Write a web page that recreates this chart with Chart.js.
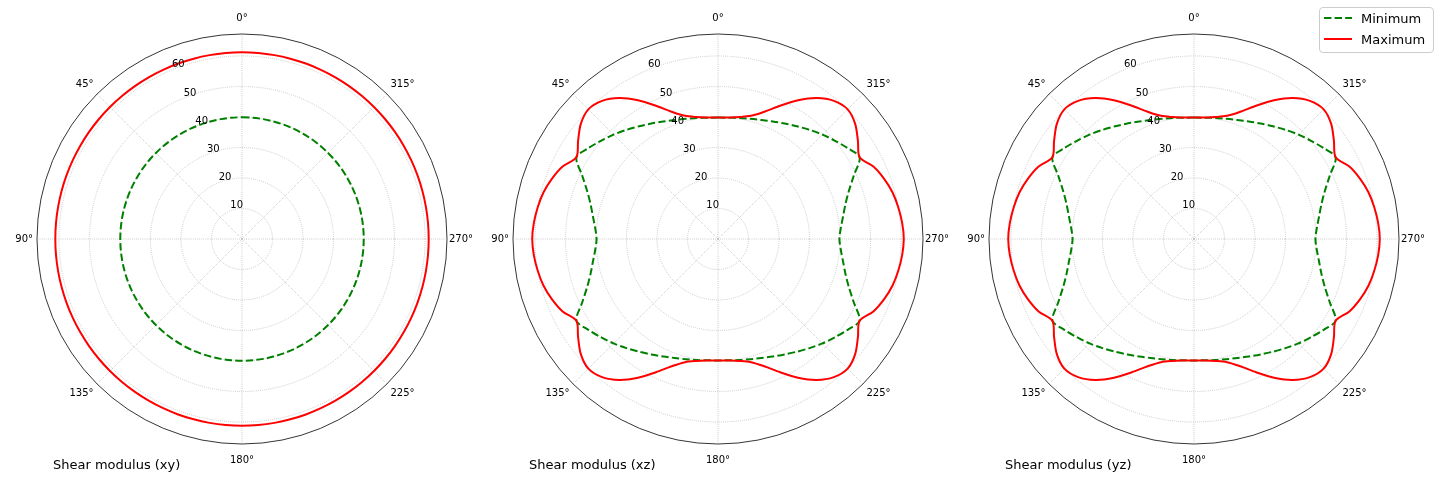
<!DOCTYPE html>
<html>
<head>
<meta charset="utf-8">
<script src="https://cdn.jsdelivr.net/npm/chart.js@4/dist/chart.umd.min.js"></script>
<style>
  body { margin: 0; background: #fff; }
  #page { position: relative; width: 1440px; height: 480px; overflow: hidden; background: #fff;
          font-family: "DejaVu Sans", sans-serif; color: #000; }
  .panel { position: absolute; top: 0; width: 480px; height: 480px; }
  .caption { position: absolute; top: 457px; font-size: 13px; line-height: 15px; white-space: nowrap; }
  #legend { position: absolute; left: 1319px; top: 7px; width: 115px; height: 46px; box-sizing: border-box;
            border: 1px solid #cccccc; border-radius: 4px; background: rgba(255,255,255,0.8); z-index: 2; }
  .lg-line { position: absolute; z-index: 3; }
  .lg-text { position: absolute; left: 1361px; font-size: 13px; line-height: 15px; z-index: 3; white-space: nowrap; }
</style>
</head>
<body>
<div id="page">
  <canvas id="chartXY" class="panel" width="480" height="480" style="left:5px"></canvas>
  <canvas id="chartXZ" class="panel" width="480" height="480" style="left:481px"></canvas>
  <canvas id="chartYZ" class="panel" width="480" height="480" style="left:957px"></canvas>

  <div class="caption" style="left:53px">Shear modulus (xy)</div>
  <div class="caption" style="left:529px">Shear modulus (xz)</div>
  <div class="caption" style="left:1005px">Shear modulus (yz)</div>

  <div id="legend"></div>
  <svg class="lg-line" style="left:1324px; top:15.5px" width="28" height="4">
    <line x1="0" y1="2" x2="28" y2="2" stroke="#008000" stroke-width="2" stroke-dasharray="7.4 3.2"/>
  </svg>
  <span class="lg-text" style="top:11px">Minimum</span>
  <svg class="lg-line" style="left:1324px; top:37px" width="28" height="4">
    <line x1="0" y1="2" x2="28" y2="2" stroke="#ff0000" stroke-width="2"/>
  </svg>
  <span class="lg-text" style="top:32px">Maximum</span>
</div>

<script>
// ---- angles (degrees, counter-clockwise from the top, as in the picture) ----
const angles = [
  0, 5, 10, 15, 20, 25, 30, 35, 40, 45, 50, 55, 60, 65, 70, 75, 80, 85,
  90, 95, 100, 105, 110, 115, 120, 125, 130, 135, 140, 145, 150, 155, 160, 165, 170, 175,
  180, 185, 190, 195, 200, 205, 210, 215, 220, 225, 230, 235, 240, 245, 250, 255, 260, 265,
  270, 275, 280, 285, 290, 295, 300, 305, 310, 315, 320, 325, 330, 335, 340, 345, 350, 355
];

// radial grid values and outer edge
const rTicks = [10, 20, 30, 40, 50, 60];
const RMAX = 67.2;

// ---- shear modulus (xy) ----
const minXY = [
  39.9, 39.9, 39.9, 39.9, 39.9, 39.9, 39.9, 39.9, 39.9, 39.9, 39.9, 39.9, 39.9, 39.9, 39.9, 39.9, 39.9, 39.9,
  39.9, 39.9, 39.9, 39.9, 39.9, 39.9, 39.9, 39.9, 39.9, 39.9, 39.9, 39.9, 39.9, 39.9, 39.9, 39.9, 39.9, 39.9,
  39.9, 39.9, 39.9, 39.9, 39.9, 39.9, 39.9, 39.9, 39.9, 39.9, 39.9, 39.9, 39.9, 39.9, 39.9, 39.9, 39.9, 39.9,
  39.9, 39.9, 39.9, 39.9, 39.9, 39.9, 39.9, 39.9, 39.9, 39.9, 39.9, 39.9, 39.9, 39.9, 39.9, 39.9, 39.9, 39.9
];
const maxXY = [
  61.2, 61.2, 61.2, 61.2, 61.2, 61.2, 61.2, 61.2, 61.2, 61.2, 61.2, 61.2, 61.2, 61.2, 61.2, 61.2, 61.2, 61.2,
  61.2, 61.2, 61.2, 61.2, 61.2, 61.2, 61.2, 61.2, 61.2, 61.2, 61.2, 61.2, 61.2, 61.2, 61.2, 61.2, 61.2, 61.2,
  61.2, 61.2, 61.2, 61.2, 61.2, 61.2, 61.2, 61.2, 61.2, 61.2, 61.2, 61.2, 61.2, 61.2, 61.2, 61.2, 61.2, 61.2,
  61.2, 61.2, 61.2, 61.2, 61.2, 61.2, 61.2, 61.2, 61.2, 61.2, 61.2, 61.2, 61.2, 61.2, 61.2, 61.2, 61.2, 61.2
];

// ---- shear modulus (xz) ----
const minXZ = [
  39.8, 39.9, 40.3, 40.8, 41.5, 42.5, 43.7, 45.1, 46.7, 48.4, 50.1, 51.9, 53.6, 49.1, 45.6, 43.2, 41.6, 40.4,
  39.8, 40.4, 41.6, 43.2, 45.6, 49.1, 53.6, 51.9, 50.1, 48.4, 46.7, 45.1, 43.7, 42.5, 41.5, 40.8, 40.3, 39.9,
  39.8, 39.9, 40.3, 40.8, 41.5, 42.5, 43.7, 45.1, 46.7, 48.4, 50.1, 51.9, 53.6, 49.1, 45.6, 43.2, 41.6, 40.4,
  39.8, 40.4, 41.6, 43.2, 45.6, 49.1, 53.6, 51.9, 50.1, 48.4, 46.7, 45.1, 43.7, 42.5, 41.5, 40.8, 40.3, 39.9
];
const maxXZ = [
  39.8, 40.0, 40.6, 41.8, 44.4, 48.2, 52.5, 56.4, 59.1, 60.1, 58.7, 56.0, 53.6, 56.2, 57.9, 59.2, 60.0, 60.6,
  60.9, 60.6, 60.0, 59.2, 57.9, 56.2, 53.6, 56.0, 58.7, 60.1, 59.1, 56.4, 52.5, 48.2, 44.4, 41.8, 40.6, 40.0,
  39.8, 40.0, 40.6, 41.8, 44.4, 48.2, 52.5, 56.4, 59.1, 60.1, 58.7, 56.0, 53.6, 56.2, 57.9, 59.2, 60.0, 60.6,
  60.9, 60.6, 60.0, 59.2, 57.9, 56.2, 53.6, 56.0, 58.7, 60.1, 59.1, 56.4, 52.5, 48.2, 44.4, 41.8, 40.6, 40.0
];

// ---- shear modulus (yz) ----
const minYZ = [
  39.8, 39.9, 40.3, 40.8, 41.5, 42.5, 43.7, 45.1, 46.7, 48.4, 50.1, 51.9, 53.6, 49.1, 45.6, 43.2, 41.6, 40.4,
  39.8, 40.4, 41.6, 43.2, 45.6, 49.1, 53.6, 51.9, 50.1, 48.4, 46.7, 45.1, 43.7, 42.5, 41.5, 40.8, 40.3, 39.9,
  39.8, 39.9, 40.3, 40.8, 41.5, 42.5, 43.7, 45.1, 46.7, 48.4, 50.1, 51.9, 53.6, 49.1, 45.6, 43.2, 41.6, 40.4,
  39.8, 40.4, 41.6, 43.2, 45.6, 49.1, 53.6, 51.9, 50.1, 48.4, 46.7, 45.1, 43.7, 42.5, 41.5, 40.8, 40.3, 39.9
];
const maxYZ = [
  39.8, 40.0, 40.6, 41.8, 44.4, 48.2, 52.5, 56.4, 59.1, 60.1, 58.7, 56.0, 53.6, 56.2, 57.9, 59.2, 60.0, 60.6,
  60.9, 60.6, 60.0, 59.2, 57.9, 56.2, 53.6, 56.0, 58.7, 60.1, 59.1, 56.4, 52.5, 48.2, 44.4, 41.8, 40.6, 40.0,
  39.8, 40.0, 40.6, 41.8, 44.4, 48.2, 52.5, 56.4, 59.1, 60.1, 58.7, 56.0, 53.6, 56.2, 57.9, 59.2, 60.0, 60.6,
  60.9, 60.6, 60.0, 59.2, 57.9, 56.2, 53.6, 56.0, 58.7, 60.1, 59.1, 56.4, 52.5, 48.2, 44.4, 41.8, 40.6, 40.0
];

Chart.defaults.font.family = '"DejaVu Sans", sans-serif';
Chart.defaults.font.size = 10;
Chart.defaults.color = '#000';

// radar runs clockwise, the picture runs counter-clockwise: keep 0 first, flip the rest
function toChartOrder(arr) {
  return [arr[0]].concat(arr.slice(1).reverse());
}

const chartAngles = toChartOrder(angles);
const chartLabels = chartAngles.map(a => (a % 45 === 0 ? a + '°' : ''));

function labelPad(a) {
  if (a === 0 || a === 180) return 10;
  if (a === 90) return 4;
  if (a === 270) return 2;
  return 5;
}

// r tick labels sit at 22.5° like matplotlib's default rlabel position
const rTickLabels = {
  id: 'rTickLabels',
  afterDatasetsDraw(chart) {
    const r = chart.scales.r;
    const ctx = chart.ctx;
    const a = 22.5 * Math.PI / 180;
    ctx.save();
    ctx.font = '10px "DejaVu Sans"';
    ctx.fillStyle = '#000';
    ctx.textAlign = 'left';
    ctx.textBaseline = 'middle';
    rTicks.forEach(v => {
      const d = r.getDistanceFromCenterForValue(v);
      const x = r.xCenter - d * Math.sin(a);
      const y = r.yCenter - d * Math.cos(a);
      ctx.fillText(String(v), x, y - 5);
    });
    ctx.restore();
  }
};

function makePolar(canvasId, minVals, maxVals) {
  const ctx = document.getElementById(canvasId).getContext('2d');
  return new Chart(ctx, {
    type: 'radar',
    data: {
      labels: chartLabels,
      datasets: [
        {
          label: 'Minimum',
          data: toChartOrder(minVals),
          borderColor: '#008000',
          borderWidth: 2,
          borderDash: [7.4, 3.2],
          fill: false,
          pointRadius: 0,
          tension: 0.3,
          order: 1
        },
        {
          label: 'Maximum',
          data: toChartOrder(maxVals),
          borderColor: '#ff0000',
          borderWidth: 2,
          fill: false,
          pointRadius: 0,
          tension: 0.3,
          order: 0
        }
      ]
    },
    options: {
      responsive: false,
      animation: false,
      devicePixelRatio: 1,
      layout: { padding: { top: 12, bottom: 14, left: 0, right: 0 } },
      plugins: { legend: { display: false }, tooltip: { enabled: false } },
      scales: {
        r: {
          min: 0,
          max: RMAX,
          startAngle: 0,
          afterBuildTicks: s => { s.ticks = [0].concat(rTicks, [RMAX]).map(v => ({ value: v })); },
          ticks: { display: false },
          grid: {
            circular: true,
            color: c => (c.tick && c.tick.value === RMAX ? '#000000' : '#b0b0b0'),
            lineWidth: 0.8
          },
          border: { dash: c => (c.tick && c.tick.value === RMAX ? [] : [0.8, 1.3]) },
          angleLines: {
            color: c => (chartAngles[c.index] % 45 === 0 ? '#b0b0b0' : 'rgba(0,0,0,0)'),
            lineWidth: 0.8,
            borderDash: [0.8, 1.3]
          },
          pointLabels: {
            color: '#000',
            font: { size: 10 },
            padding: c => labelPad(chartAngles[c.index])
          }
        }
      }
    },
    plugins: [rTickLabels]
  });
}

makePolar('chartXY', minXY, maxXY);
makePolar('chartXZ', minXZ, maxXZ);
makePolar('chartYZ', minYZ, maxYZ);
</script>
</body>
</html>
